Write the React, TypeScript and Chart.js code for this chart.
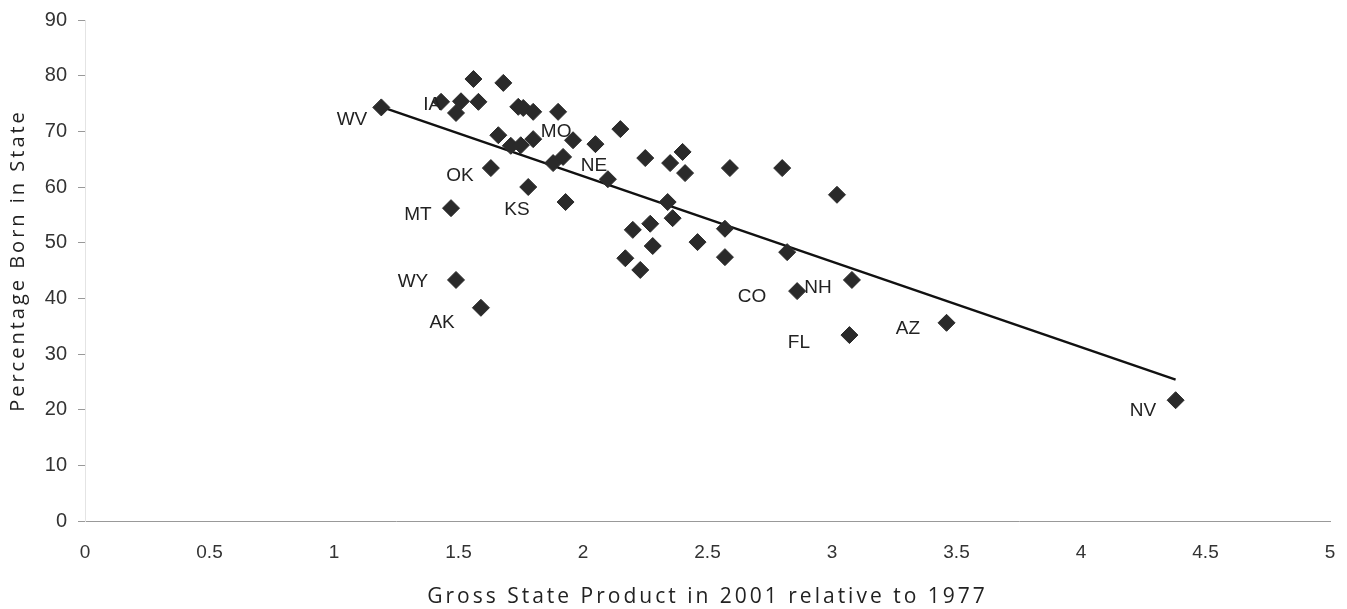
import React, { useEffect, useRef } from "react";
import { Chart, registerables } from "chart.js";

Chart.register(...registerables);

// Gross State Product in 2001 relative to 1977 (x) vs Percentage Born in State (y)
const gspRatio = [
  1.19, 1.43, 1.51, 1.58, 1.49, 1.56, 1.68, 1.74, 1.76, 1.8,
  1.9, 2.15, 1.66, 1.71, 1.75, 1.8, 1.96, 2.05, 1.63, 1.78,
  1.93, 1.47, 1.88, 1.92, 2.1, 2.25, 2.4, 2.35, 2.41, 2.59,
  2.8, 3.02, 2.34, 2.36, 2.27, 2.2, 2.28, 2.46, 2.57, 2.17,
  2.23, 2.57, 2.82, 3.08, 2.86, 1.49, 1.59, 3.07, 3.46, 4.38,
];
const bornInState = [
  74.3, 75.3, 75.4, 75.3, 73.3, 79.4, 78.7, 74.4, 74.2, 73.5,
  73.5, 70.4, 69.3, 67.4, 67.5, 68.6, 68.4, 67.7, 63.4, 60.0,
  57.3, 56.2, 64.3, 65.4, 61.4, 65.2, 66.3, 64.3, 62.5, 63.4,
  63.4, 58.6, 57.3, 54.4, 53.4, 52.3, 49.4, 50.1, 52.5, 47.2,
  45.1, 47.4, 48.3, 43.3, 41.3, 43.3, 38.3, 33.4, 35.6, 21.7,
];

// fitted trend line end points
const trendX = [1.19, 4.38];
const trendY = [74.4, 25.4];

// state labels (anchored in data units)
const labelNames = ["WV", "IA", "MO", "NE", "OK", "KS", "MT", "WY", "AK", "CO", "NH", "FL", "AZ", "NV"];
const labelX = [1.072, 1.394, 1.892, 2.044, 1.506, 1.735, 1.337, 1.317, 1.434, 2.679, 2.944, 2.867, 3.305, 4.249];
const labelY = [72.0, 74.7, 69.9, 63.9, 62.0, 55.9, 55.1, 42.9, 35.6, 40.2, 41.9, 32.0, 34.5, 19.8];

const xTicks = [0, 0.5, 1, 1.5, 2, 2.5, 3, 3.5, 4, 4.5, 5];

const xTitle = "Gross State Product in 2001 relative to 1977";
const yTitle = "Percentage Born in State";

const stateLabelPlugin = {
  id: "stateLabels",
  afterDatasetsDraw(chart: any) {
    const { ctx, scales } = chart;
    ctx.save();
    ctx.font = '19px "Liberation Sans", Arial, sans-serif';
    ctx.fillStyle = "#222";
    ctx.textAlign = "center";
    ctx.textBaseline = "middle";
    labelNames.forEach((name, i) => {
      ctx.fillText(name, scales.x.getPixelForValue(labelX[i]), scales.y.getPixelForValue(labelY[i]));
    });
    ctx.restore();
  },
};

const axisTitlePlugin = {
  id: "axisTitles",
  afterDraw(chart: any) {
    const { ctx, chartArea } = chart;
    ctx.save();
    ctx.fillStyle = "#222";
    ctx.textAlign = "center";
    ctx.textBaseline = "middle";
    (ctx as any).letterSpacing = "3px";
    ctx.font = '21px "Open Sans", sans-serif';
    ctx.fillText(xTitle, (chartArea.left + chartArea.right) / 2, 597);
    ctx.translate(18, (chartArea.top + chartArea.bottom) / 2 - 10);
    ctx.rotate(-Math.PI / 2);
    ctx.font = '20px "Open Sans", sans-serif';
    ctx.fillText(yTitle, 0, 0);
    ctx.restore();
  },
};

export default function App() {
  const ref = useRef<HTMLCanvasElement>(null);
  useEffect(() => {
    if (!ref.current) return;
    const chart = new Chart(ref.current, {
      type: "scatter",
      data: {
        datasets: [
          {
            label: "States",
            data: gspRatio.map((x, i) => ({ x, y: bornInState[i] })),
            pointStyle: "rectRot",
            pointRadius: 8.5,
            pointHoverRadius: 8.5,
            backgroundColor: "#2a2a2a",
            borderColor: "#2a2a2a",
            borderWidth: 1,
            order: 1,
          },
          {
            label: "Trend",
            data: trendX.map((x, i) => ({ x, y: trendY[i] })),
            showLine: true,
            borderColor: "#111",
            borderWidth: 2.5,
            pointRadius: 0,
            order: 2,
          } as any,
        ],
      },
      options: {
        animation: false,
        responsive: true,
        maintainAspectRatio: false,
        layout: { padding: { top: 20, right: 17, left: 0, bottom: 0 } },
        plugins: { legend: { display: false }, tooltip: { enabled: false } },
        scales: {
          x: {
            type: "linear",
            min: 0,
            max: 5,
            afterBuildTicks: (s: any) => {
              s.ticks = xTicks.map((v) => ({ value: v }));
            },
            afterFit: (s: any) => {
              s.height = 88;
              s.paddingLeft = 0;
              s.paddingRight = 0;
            },
            grid: { display: false, drawTicks: false },
            border: { display: true, color: "#999", width: 1, dash: [2, 2] },
            ticks: {
              padding: 20,
              color: "#333",
              font: { family: '"Liberation Sans", Arial, sans-serif', size: 19 },
              callback: (v: any) => String(v),
            },
          },
          y: {
            type: "linear",
            min: 0,
            max: 90,
            afterFit: (s: any) => {
              s.width = 85;
              s.paddingTop = 0;
              s.paddingBottom = 0;
            },
            grid: { display: true, drawOnChartArea: false, drawTicks: true, tickLength: 7, color: "#999" },
            border: { display: true, color: "#e4e4e4", width: 1 },
            ticks: {
              stepSize: 10,
              padding: 11,
              color: "#333",
              font: { family: '"Liberation Sans", Arial, sans-serif', size: 20 },
            },
          },
        },
      },
      plugins: [stateLabelPlugin, axisTitlePlugin],
    });
    return () => chart.destroy();
  }, []);
  return (
    <div style={{ position: "fixed", left: 0, top: 0, width: 1347, height: 609, background: "#fff" }}>
      <canvas ref={ref} />
    </div>
  );
}
